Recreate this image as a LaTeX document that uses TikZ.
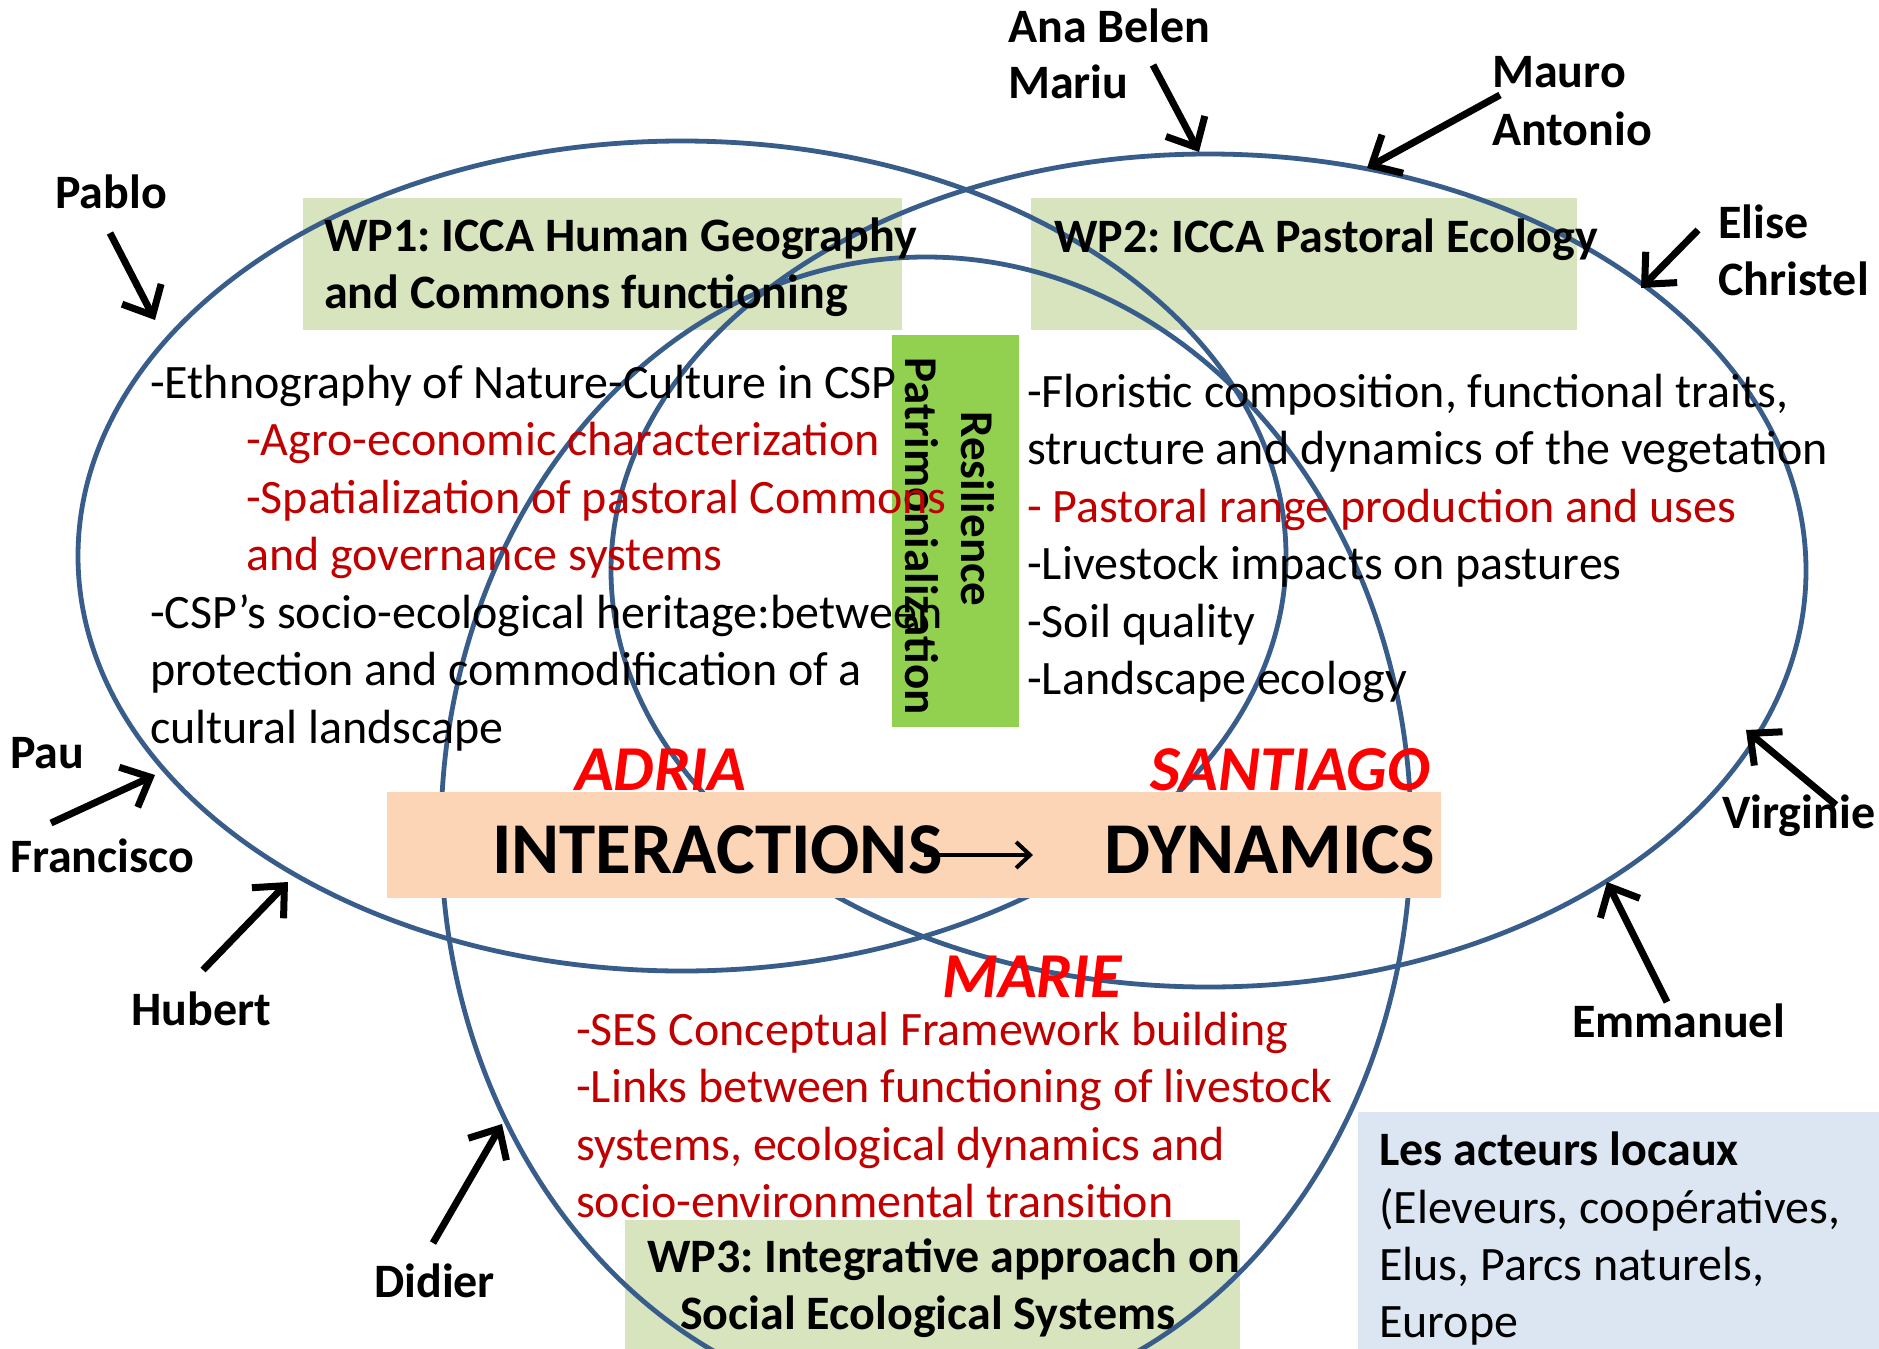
\documentclass[tikz,border=0pt]{standalone}
\usepackage{fontspec}
\setmainfont{Carlito}
\usetikzlibrary{arrows.meta}
\definecolor{ellcol}{RGB}{56,93,138}
\definecolor{wpfill}{RGB}{215,228,189}
\definecolor{resfill}{RGB}{146,208,80}
\definecolor{peach}{RGB}{251,213,181}
\definecolor{acteur}{RGB}{220,230,242}
\definecolor{dred}{RGB}{192,0,0}
\definecolor{bred}{RGB}{255,0,0}
\frenchspacing
\begin{document}
\begin{tikzpicture}[x=1pt,y=-1pt,
  txt/.style={anchor=base west,inner sep=0pt,font=\fontsize{48}{57.5}\selectfont},
  redtxt/.style={txt,text=dred},
  wpbold/.style={anchor=base west,inner sep=0pt,font=\fontsize{48}{57.5}\selectfont\bfseries},
  who/.style={wpbold},
  rottxt/.style={inner sep=0pt,rotate=-90,font=\fontsize{47}{56}\selectfont\bfseries},
  bigword/.style={anchor=base west,inner sep=0pt,font=\fontsize{73}{88}\selectfont\bfseries},
  placelbl/.style={anchor=base west,inner sep=0pt,text=bred,font=\fontsize{64}{75}\selectfont\bfseries\itshape},
  ring/.style={draw=ellcol,line width=4.8pt},
  pointer/.style={line width=7pt,-{Straight Barb[length=24pt,width=44pt]}},
]
\useasboundingbox (0,0) rectangle (1879,1349);
\clip (0,0) rectangle (1879,1349);
\fill[white] (0,0) rectangle (1879,1349);

% boxes under the ellipses
\fill[wpfill] (303,198) rectangle (902,330);
\fill[wpfill] (1031,198) rectangle (1577,330);
\fill[wpfill] (625,1220) rectangle (1240,1349);
\fill[acteur] (1358,1112) rectangle (1879,1349);

% ellipses
\draw[ring] (682,556) ellipse [x radius=604, y radius=415];
\draw[ring] (1208.5,570.5) ellipse [x radius=597.5, y radius=416.5];
\draw[ring] (926,833) ellipse [x radius=485, y radius=576];

% boxes over the ellipses
\fill[resfill] (892,335) rectangle (1019,727);
\fill[peach] (387,792) rectangle (1441,898);

% WP titles
\node[wpbold] (wp1a) at (324,251) {WP1: ICCA Human Geography};
\node[wpbold] (wp1b) at (324,308.5) {and Commons functioning};
\node[wpbold] (wp2) at (1054,252) {WP2: ICCA Pastoral Ecology};
\node[wpbold] (wp3a) at (647,1272) {WP3: Integrative approach on};
\node[wpbold] (wp3b) at (680,1329) {Social Ecological Systems};

% rotated text
\node[rottxt] (resil) at (978,509) {Resilience};
\node[rottxt] (patri) at (922,536) {Patrimonialization};

% left column
\node[txt] (l1) at (150,398) {-Ethnography of Nature-Culture in CSP};
\node[redtxt] (l2) at (246,455.5) {-Agro-economic characterization};
\node[redtxt] (l3) at (246,513) {-Spatialization of pastoral Commons};
\node[redtxt] (l4) at (246,570.5) {and governance systems};
\node[txt] (l5) at (150,628) {-CSP’s socio-ecological heritage:between};
\node[txt] (l6) at (150,685.5) {protection and commodification of a};
\node[txt] (l7) at (150,743) {cultural landscape};

% right column
\node[txt] (r1) at (1027,407) {-Floristic composition, functional traits,};
\node[txt] (r2) at (1027,464.5) {structure and dynamics of the vegetation};
\node[redtxt] (r3) at (1027,522) {- Pastoral range production and uses};
\node[txt] (r4) at (1027,579.5) {-Livestock impacts on pastures};
\node[txt] (r5) at (1027,637) {-Soil quality};
\node[txt] (r6) at (1027,694.5) {-Landscape ecology};

% bottom column
\node[redtxt] (b1) at (576,1045) {-SES Conceptual Framework building};
\node[redtxt] (b2) at (576,1102.5) {-Links between functioning of livestock};
\node[redtxt] (b3) at (576,1160) {systems, ecological dynamics and};
\node[redtxt] (b4) at (576,1217.5) {socio-environmental transition};

% local actors
\node[wpbold] (act1) at (1379,1165) {Les acteurs locaux};
\node[txt] (act2) at (1379,1223) {(Eleveurs, coopératives,};
\node[txt] (act3) at (1379,1280) {Elus, Parcs naturels,};
\node[txt] (act4) at (1379,1337) {Europe};

% central words
\node[placelbl] (adria) at (575,790) {ADRIA};
\node[placelbl] (santiago) at (1150,790) {SANTIAGO};
\node[placelbl] (marie) at (942,997) {MARIE};
\node[bigword] (inter) at (492,873) {INTERACTIONS};
\node[bigword] (dyn) at (1104,873) {DYNAMICS};
\coordinate (ia-s) at (924,855);
\coordinate (ia-e) at (1033,855);
\draw[line width=4pt,-{Straight Barb[length=14pt,width=26pt]}] (ia-s) -- (ia-e);

% names
\node[who] (pablo) at (55,208) {Pablo};
\node[who] (anabelen) at (1008,42) {Ana Belen};
\node[who] (mariu) at (1008,98) {Mariu};
\node[who] (mauro) at (1492,87) {Mauro};
\node[who] (antonio) at (1492,145) {Antonio};
\node[who] (elise) at (1718,238) {Elise};
\node[who] (christel) at (1718,295) {Christel};
\node[who] (pau) at (10,768) {Pau};
\node[who] (francisco) at (10,872) {Francisco};
\node[who] (hubert) at (131,1025) {Hubert};
\node[who] (didier) at (374,1297) {Didier};
\node[who] (emmanuel) at (1572,1037) {Emmanuel};
\node[who] (virginie) at (1722,828) {Virginie};

% arrows
\coordinate (pablo-s) at (110,233);  \coordinate (pablo-e) at (155,320);
\coordinate (ana-s) at (1153,65);    \coordinate (ana-e) at (1199,152);
\coordinate (mauro-s) at (1500,95);  \coordinate (mauro-e) at (1367,168);
\coordinate (elise-s) at (1698,230); \coordinate (elise-e) at (1641,288);
\coordinate (virg-s) at (1836,805);  \coordinate (virg-e) at (1746,730);
\coordinate (emm-s) at (1667,1002);  \coordinate (emm-e) at (1607,882);
\coordinate (hub-s) at (203,970);    \coordinate (hub-e) at (288,882);
\coordinate (pau-s) at (51,823);     \coordinate (pau-e) at (155,775);
\coordinate (did-s) at (433,1243);   \coordinate (did-e) at (502,1124);
\draw[pointer] (pablo-s) -- (pablo-e);
\draw[pointer] (ana-s) -- (ana-e);
\draw[pointer] (mauro-s) -- (mauro-e);
\draw[pointer] (elise-s) -- (elise-e);
\draw[pointer] (virg-s) -- (virg-e);
\draw[pointer] (emm-s) -- (emm-e);
\draw[pointer] (hub-s) -- (hub-e);
\draw[pointer] (pau-s) -- (pau-e);
\draw[pointer] (did-s) -- (did-e);
\end{tikzpicture}
\end{document}
